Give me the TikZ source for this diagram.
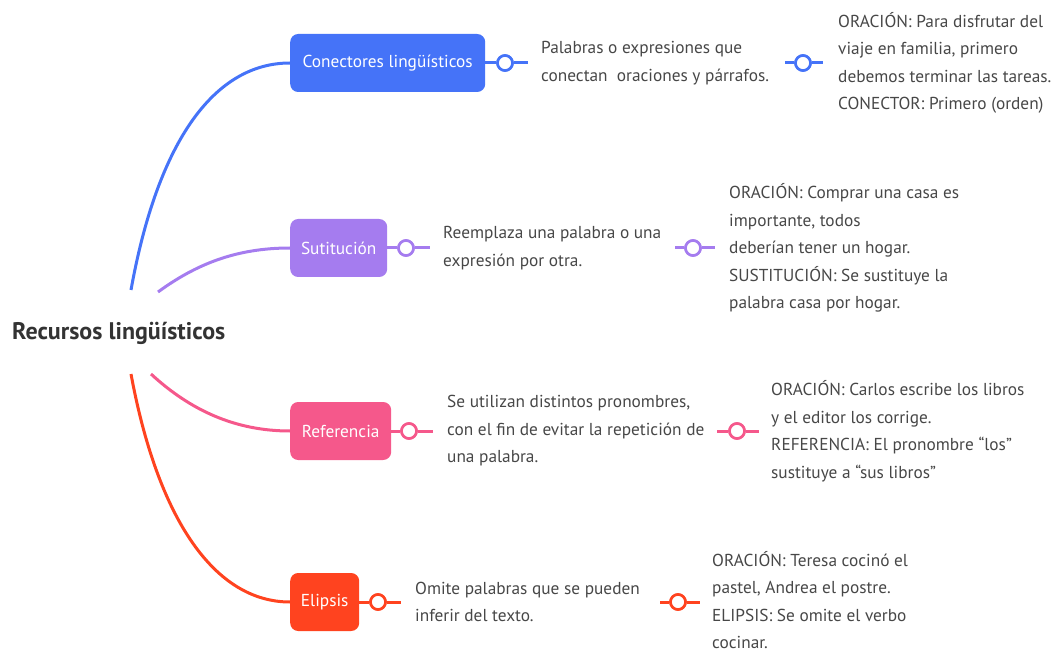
\documentclass[tikz,border=0pt]{standalone}
\usepackage{fontspec}
\setmainfont{PT Sans}
\definecolor{azul}{HTML}{4573F8}
\definecolor{morado}{HTML}{A57CEF}
\definecolor{rosa}{HTML}{F5588B}
\definecolor{rojo}{HTML}{FF431F}
\definecolor{gris}{HTML}{474747}
\tikzset{
	tema/.style={anchor=west, rounded corners=8pt, text=white, minimum height=58pt, inner sep=0pt, font=\fontsize{17.3}{20}\selectfont},
	rama/.style={line width=3pt},
	nudo/.style={circle, draw=#1, line width=2.6pt, fill=white, minimum size=15pt, inner sep=0pt},
	nota/.style={anchor=west, align=left, text=gris, inner sep=0pt, font=\fontsize{17.3}{27.5}\selectfont},
}
\begin{document}
\begin{tikzpicture}[x=1pt,y=-1pt]
	\useasboundingbox (0,0) rectangle (1058,652);
	\node[anchor=west, inner sep=0pt, text=black!80, font=\fontsize{24}{28}\selectfont\bfseries] (raiz) at (12,333) {Recursos lingüísticos};
	% Puntos de salida de las ramas
	\coordinate (sA) at (131,290);
	\coordinate (sB) at (158,292);
	\coordinate (sC) at (151,374);
	\coordinate (sD) at (131,374);

	% Conectores
	\node[tema, fill=azul, minimum width=195pt] (con) at (290,63) {Conectores lingüísticos};
	\node[nudo=azul] (con1) at (505,63) {};
	\node[nota] (conD) at (541,63) {Palabras o expresiones que\\conectan\ \ oraciones y párrafos.};
	\coordinate (con2a) at (785,63);
	\node[nudo=azul] (con2) at (803,63) {};
	\node[nota] (conE) at (838,63) {ORACIÓN: Para disfrutar del\\viaje en familia, primero\\debemos terminar las tareas.\\CONECTOR: Primero (orden)};
	\draw[rama, azul] (sA) .. controls (158,140) and (215,63) .. (con.west);
	\draw[rama, azul, shorten >=13pt] (con.east) -- (con1) -- (conD.west);
	\draw[rama, azul, shorten >=15pt] (con2a) -- (con2) -- (conE.west);
	\node[nudo=azul] at (con1) {};
	\node[nudo=azul] at (con2) {};

	% Sustitucion
	\node[tema, fill=morado, minimum width=97pt] (sus) at (290,248) {Sutitución};
	\node[nudo=morado] (sus1) at (406,248) {};
	\node[nota] (susD) at (443,248) {Reemplaza una palabra o una\\expresión por otra.};
	\coordinate (sus2a) at (675,248);
	\node[nudo=morado] (sus2) at (693,248) {};
	\node[nota] (susE) at (729,248) {ORACIÓN: Comprar una casa es\\importante, todos\\deberían tener un hogar.\\SUSTITUCIÓN: Se sustituye la\\palabra casa por hogar.};
	\draw[rama, morado] (sB) .. controls (195,265) and (235,248) .. (sus.west);
	\draw[rama, morado, shorten >=13pt] (sus.east) -- (sus1) -- (susD.west);
	\draw[rama, morado, shorten >=14pt] (sus2a) -- (sus2) -- (susE.west);
	\node[nudo=morado] at (sus1) {};
	\node[nudo=morado] at (sus2) {};

	% Referencia
	\node[tema, fill=rosa, minimum width=101pt] (ref) at (290,431) {Referencia};
	\node[nudo=rosa] (ref1) at (409,431) {};
	\node[nota] (refD) at (447,431) {Se utilizan distintos pronombres,\\con el fin de evitar la repetición de\\una palabra.};
	\coordinate (ref2a) at (717,431);
	\node[nudo=rosa] (ref2) at (737,431) {};
	\node[nota] (refE) at (771,431) {ORACIÓN: Carlos escribe los libros\\y el editor los corrige.\\REFERENCIA: El pronombre “los”\\sustituye a “sus libros”};
	\draw[rama, rosa] (sC) .. controls (190,410) and (235,431) .. (ref.west);
	\draw[rama, rosa, shorten >=14pt] (ref.east) -- (ref1) -- (refD.west);
	\draw[rama, rosa, shorten >=12pt] (ref2a) -- (ref2) -- (refE.west);
	\node[nudo=rosa] at (ref1) {};
	\node[nudo=rosa] at (ref2) {};

	% Elipsis
	\node[tema, fill=rojo, minimum width=69pt] (eli) at (290,602) {Elipsis};
	\node[nudo=rojo] (eli1) at (378,602) {};
	\node[nota] (eliD) at (415,602) {Omite palabras que se pueden\\inferir del texto.};
	\coordinate (eli2a) at (660,602);
	\node[nudo=rojo] (eli2) at (678,602) {};
	\node[nota] (eliE) at (712,600) {ORACIÓN: Teresa cocinó el\\pastel, Andrea el postre.\\ELIPSIS: Se omite el verbo\\cocinar.};
	\draw[rama, rojo] (sD) .. controls (158,520) and (215,602) .. (eli.west);
	\draw[rama, rojo, shorten >=14pt] (eli.east) -- (eli1) -- (eliD.west);
	\draw[rama, rojo, shorten >=12pt] (eli2a) -- (eli2) -- (eliE.west |- eli2);
	\node[nudo=rojo] at (eli1) {};
	\node[nudo=rojo] at (eli2) {};
\end{tikzpicture}
\end{document}
